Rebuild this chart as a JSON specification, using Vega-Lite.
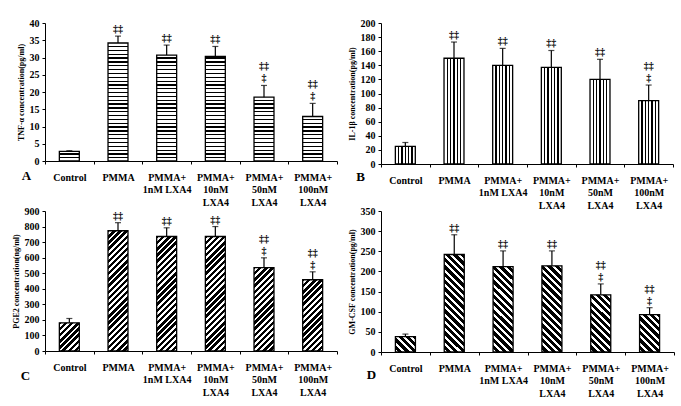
{
  "$schema": "https://vega.github.io/schema/vega-lite/v6.json",
  "background": "white",
  "padding": {"left": 12, "top": 18, "right": 2, "bottom": 2},
  "config": {
    "view": {"stroke": null},
    "font": "Liberation Serif",
    "axis": {"domainColor": "black", "tickColor": "black", "labelColor": "black", "titleColor": "black", "labelFont": "Liberation Serif", "titleFont": "Liberation Serif", "labelFontWeight": "bold", "labelFontSize": 10, "grid": false, "domainWidth": 1, "tickWidth": 1},
    "axisY": {"tickSize": 3, "labelPadding": 3, "titlePadding": 4, "titleFontSize": 8, "titleFontWeight": "bold"},
    "axisX": {"labelAngle": 0, "tickBand": "extent", "tickSize": 3, "labelPadding": 8, "labelLineHeight": 12.5, "titleFontSize": 13, "titleFontWeight": "bold", "titleAngle": 0, "titleAlign": "center", "titleBaseline": "middle"},
    "text": {"color": "black", "font": "Liberation Serif"}
  },
  "datasets": {
    "tnf": [
      {"g": "Control", "mean": 2.8, "hi": 3.0, "sig": ""},
      {"g": "PMMA", "mean": 34.2, "hi": 36.2, "sig": "‡‡"},
      {"g": "PMMA+|1nM LXA4", "mean": 30.7, "hi": 33.6, "sig": "‡‡"},
      {"g": "PMMA+|10nM|LXA4", "mean": 30.3, "hi": 33.2, "sig": "‡‡"},
      {"g": "PMMA+|50nM|LXA4", "mean": 18.5, "hi": 21.9, "sig": "‡\n‡‡"},
      {"g": "PMMA+|100nM|LXA4", "mean": 12.9, "hi": 16.7, "sig": "‡\n‡‡"}
    ],
    "il1": [
      {"g": "Control", "mean": 25, "hi": 30.5, "sig": ""},
      {"g": "PMMA", "mean": 150, "hi": 173, "sig": "‡‡"},
      {"g": "PMMA+|1nM LXA4", "mean": 140, "hi": 164, "sig": "‡‡"},
      {"g": "PMMA+|10nM|LXA4", "mean": 137, "hi": 161, "sig": "‡‡"},
      {"g": "PMMA+|50nM|LXA4", "mean": 120, "hi": 148.5, "sig": "‡‡"},
      {"g": "PMMA+|100nM|LXA4", "mean": 90, "hi": 112, "sig": "‡\n‡‡"}
    ],
    "pge": [
      {"g": "Control", "mean": 181, "hi": 209, "sig": ""},
      {"g": "PMMA", "mean": 773, "hi": 825, "sig": "‡‡"},
      {"g": "PMMA+|1nM LXA4", "mean": 736, "hi": 792, "sig": "‡‡"},
      {"g": "PMMA+|10nM|LXA4", "mean": 736, "hi": 800, "sig": "‡‡"},
      {"g": "PMMA+|50nM|LXA4", "mean": 536, "hi": 599, "sig": "‡\n‡‡"},
      {"g": "PMMA+|100nM|LXA4", "mean": 458, "hi": 509, "sig": "‡\n‡‡"}
    ],
    "gm": [
      {"g": "Control", "mean": 38, "hi": 44.5, "sig": ""},
      {"g": "PMMA", "mean": 242, "hi": 291, "sig": "‡‡"},
      {"g": "PMMA+|1nM LXA4", "mean": 212, "hi": 251, "sig": "‡‡"},
      {"g": "PMMA+|10nM|LXA4", "mean": 214, "hi": 251, "sig": "‡‡"},
      {"g": "PMMA+|50nM|LXA4", "mean": 142, "hi": 169, "sig": "‡\n‡‡"},
      {"g": "PMMA+|100nM|LXA4", "mean": 93, "hi": 110, "sig": "‡\n‡‡"}
    ]
  },
  "spacing": -4,
  "vconcat": [
    {
      "spacing": 10,
      "hconcat": [
        {
          "width": 292, "height": 138,
          "data": {"name": "tnf"},
          "encoding": {
            "x": {"field": "g", "type": "nominal", "sort": null, "scale": {"paddingInner": 0, "paddingOuter": 0},
              "axis": {"title": "A", "labelExpr": "split(datum.label, '|')", "titleX": -19, "titleY": 14}}
          },
          "layer": [
            {"mark": {"type": "bar", "width": {"band": 0.41}, "stroke": null, "fill": {"gradient": "linear", "x1": 0, "y1": 0, "x2": 0, "y2": 1, "stops": [
              {"offset": 0, "color": "#000"}, {"offset": 0.009, "color": "#000"}, {"offset": 0.009, "color": "#fff"},
              {"offset": 0.0278, "color": "#fff"}, {"offset": 0.0278, "color": "#000"}, {"offset": 0.0368, "color": "#000"}, {"offset": 0.0368, "color": "#fff"},
              {"offset": 0.0556, "color": "#fff"}, {"offset": 0.0556, "color": "#000"}, {"offset": 0.0646, "color": "#000"}, {"offset": 0.0646, "color": "#fff"},
              {"offset": 0.0833, "color": "#fff"}, {"offset": 0.0833, "color": "#000"}, {"offset": 0.0923, "color": "#000"}, {"offset": 0.0923, "color": "#fff"},
              {"offset": 0.1111, "color": "#fff"}, {"offset": 0.1111, "color": "#000"}, {"offset": 0.1201, "color": "#000"}, {"offset": 0.1201, "color": "#fff"},
              {"offset": 0.1389, "color": "#fff"}, {"offset": 0.1389, "color": "#000"}, {"offset": 0.1479, "color": "#000"}, {"offset": 0.1479, "color": "#fff"},
              {"offset": 0.1667, "color": "#fff"}, {"offset": 0.1667, "color": "#000"}, {"offset": 0.1757, "color": "#000"}, {"offset": 0.1757, "color": "#fff"},
              {"offset": 0.1944, "color": "#fff"}, {"offset": 0.1944, "color": "#000"}, {"offset": 0.2034, "color": "#000"}, {"offset": 0.2034, "color": "#fff"},
              {"offset": 0.2222, "color": "#fff"}, {"offset": 0.2222, "color": "#000"}, {"offset": 0.2312, "color": "#000"}, {"offset": 0.2312, "color": "#fff"},
              {"offset": 0.25, "color": "#fff"}, {"offset": 0.25, "color": "#000"}, {"offset": 0.259, "color": "#000"}, {"offset": 0.259, "color": "#fff"},
              {"offset": 0.2778, "color": "#fff"}, {"offset": 0.2778, "color": "#000"}, {"offset": 0.2868, "color": "#000"}, {"offset": 0.2868, "color": "#fff"},
              {"offset": 0.3056, "color": "#fff"}, {"offset": 0.3056, "color": "#000"}, {"offset": 0.3146, "color": "#000"}, {"offset": 0.3146, "color": "#fff"},
              {"offset": 0.3333, "color": "#fff"}, {"offset": 0.3333, "color": "#000"}, {"offset": 0.3423, "color": "#000"}, {"offset": 0.3423, "color": "#fff"},
              {"offset": 0.3611, "color": "#fff"}, {"offset": 0.3611, "color": "#000"}, {"offset": 0.3701, "color": "#000"}, {"offset": 0.3701, "color": "#fff"},
              {"offset": 0.3889, "color": "#fff"}, {"offset": 0.3889, "color": "#000"}, {"offset": 0.3979, "color": "#000"}, {"offset": 0.3979, "color": "#fff"},
              {"offset": 0.4167, "color": "#fff"}, {"offset": 0.4167, "color": "#000"}, {"offset": 0.4257, "color": "#000"}, {"offset": 0.4257, "color": "#fff"},
              {"offset": 0.4444, "color": "#fff"}, {"offset": 0.4444, "color": "#000"}, {"offset": 0.4534, "color": "#000"}, {"offset": 0.4534, "color": "#fff"},
              {"offset": 0.4722, "color": "#fff"}, {"offset": 0.4722, "color": "#000"}, {"offset": 0.4812, "color": "#000"}, {"offset": 0.4812, "color": "#fff"},
              {"offset": 0.5, "color": "#fff"}, {"offset": 0.5, "color": "#000"}, {"offset": 0.509, "color": "#000"}, {"offset": 0.509, "color": "#fff"},
              {"offset": 0.5278, "color": "#fff"}, {"offset": 0.5278, "color": "#000"}, {"offset": 0.5368, "color": "#000"}, {"offset": 0.5368, "color": "#fff"},
              {"offset": 0.5556, "color": "#fff"}, {"offset": 0.5556, "color": "#000"}, {"offset": 0.5646, "color": "#000"}, {"offset": 0.5646, "color": "#fff"},
              {"offset": 0.5833, "color": "#fff"}, {"offset": 0.5833, "color": "#000"}, {"offset": 0.5923, "color": "#000"}, {"offset": 0.5923, "color": "#fff"},
              {"offset": 0.6111, "color": "#fff"}, {"offset": 0.6111, "color": "#000"}, {"offset": 0.6201, "color": "#000"}, {"offset": 0.6201, "color": "#fff"},
              {"offset": 0.6389, "color": "#fff"}, {"offset": 0.6389, "color": "#000"}, {"offset": 0.6479, "color": "#000"}, {"offset": 0.6479, "color": "#fff"},
              {"offset": 0.6667, "color": "#fff"}, {"offset": 0.6667, "color": "#000"}, {"offset": 0.6757, "color": "#000"}, {"offset": 0.6757, "color": "#fff"},
              {"offset": 0.6944, "color": "#fff"}, {"offset": 0.6944, "color": "#000"}, {"offset": 0.7034, "color": "#000"}, {"offset": 0.7034, "color": "#fff"},
              {"offset": 0.7222, "color": "#fff"}, {"offset": 0.7222, "color": "#000"}, {"offset": 0.7312, "color": "#000"}, {"offset": 0.7312, "color": "#fff"},
              {"offset": 0.75, "color": "#fff"}, {"offset": 0.75, "color": "#000"}, {"offset": 0.759, "color": "#000"}, {"offset": 0.759, "color": "#fff"},
              {"offset": 0.7778, "color": "#fff"}, {"offset": 0.7778, "color": "#000"}, {"offset": 0.7868, "color": "#000"}, {"offset": 0.7868, "color": "#fff"},
              {"offset": 0.8056, "color": "#fff"}, {"offset": 0.8056, "color": "#000"}, {"offset": 0.8146, "color": "#000"}, {"offset": 0.8146, "color": "#fff"},
              {"offset": 0.8333, "color": "#fff"}, {"offset": 0.8333, "color": "#000"}, {"offset": 0.8423, "color": "#000"}, {"offset": 0.8423, "color": "#fff"},
              {"offset": 0.8611, "color": "#fff"}, {"offset": 0.8611, "color": "#000"}, {"offset": 0.8701, "color": "#000"}, {"offset": 0.8701, "color": "#fff"},
              {"offset": 0.8889, "color": "#fff"}, {"offset": 0.8889, "color": "#000"}, {"offset": 0.8979, "color": "#000"}, {"offset": 0.8979, "color": "#fff"},
              {"offset": 0.9167, "color": "#fff"}, {"offset": 0.9167, "color": "#000"}, {"offset": 0.9257, "color": "#000"}, {"offset": 0.9257, "color": "#fff"},
              {"offset": 0.9444, "color": "#fff"}, {"offset": 0.9444, "color": "#000"}, {"offset": 0.9534, "color": "#000"}, {"offset": 0.9534, "color": "#fff"},
              {"offset": 0.9722, "color": "#fff"}, {"offset": 0.9722, "color": "#000"}, {"offset": 0.9812, "color": "#000"}, {"offset": 0.9812, "color": "#fff"}
            ]}},
              "encoding": {"y": {"datum": 40, "type": "quantitative", "scale": {"domain": [0, 40], "nice": false}, "title": "TNF-α concentration(pg/ml)", "axis": {"values": [0, 5, 10, 15, 20, 25, 30, 35, 40]}}, "y2": {"datum": 0}}},
            {"mark": {"type": "bar", "width": {"band": 0.47}, "fill": "white", "stroke": null},
              "encoding": {"y": {"field": "mean", "type": "quantitative", "title": "TNF-α concentration(pg/ml)", "axis": {"values": [0, 5, 10, 15, 20, 25, 30, 35, 40]}}, "y2": {"datum": 40}}},
            {"mark": {"type": "rule", "color": "black", "strokeWidth": 1.2},
              "encoding": {"y": {"field": "mean", "type": "quantitative", "title": "TNF-α concentration(pg/ml)", "axis": {"values": [0, 5, 10, 15, 20, 25, 30, 35, 40]}}, "y2": {"field": "hi"}}},
            {"mark": {"type": "tick", "color": "black", "size": 6, "thickness": 1.2},
              "encoding": {"y": {"field": "hi", "type": "quantitative", "title": "TNF-α concentration(pg/ml)", "axis": {"values": [0, 5, 10, 15, 20, 25, 30, 35, 40]}}}},
            {"mark": {"type": "bar", "width": {"band": 0.41}, "fill": "transparent", "stroke": "black", "strokeWidth": 1.3},
              "encoding": {"y": {"field": "mean", "type": "quantitative", "title": "TNF-α concentration(pg/ml)", "axis": {"values": [0, 5, 10, 15, 20, 25, 30, 35, 40]}}, "y2": {"datum": 0}}},
            {"mark": {"type": "text", "baseline": "bottom", "dy": -2, "lineBreak": "\n", "lineHeight": -12, "fontSize": 10, "fontWeight": "bold"},
              "encoding": {"y": {"field": "hi", "type": "quantitative", "title": "TNF-α concentration(pg/ml)", "axis": {"values": [0, 5, 10, 15, 20, 25, 30, 35, 40]}}, "text": {"field": "sig"}}}
          ]
        },
        {
          "width": 292, "height": 141,
          "data": {"name": "il1"},
          "encoding": {
            "x": {"field": "g", "type": "nominal", "sort": null, "scale": {"paddingInner": 0, "paddingOuter": 0},
              "axis": {"title": "B", "labelExpr": "split(datum.label, '|')", "titleX": -21, "titleY": 12}}
          },
          "layer": [
            {"mark": {"type": "bar", "width": {"band": 0.41}, "stroke": "black", "strokeWidth": 1.3, "fill": {"gradient": "linear", "x1": 0, "y1": 0, "x2": 1, "y2": 0, "stops": [
              {"offset": 0.1397, "color": "#fff"}, {"offset": 0.1397, "color": "#000"}, {"offset": 0.1937, "color": "#000"}, {"offset": 0.1937, "color": "#fff"},
              {"offset": 0.3063, "color": "#fff"}, {"offset": 0.3063, "color": "#000"}, {"offset": 0.3603, "color": "#000"}, {"offset": 0.3603, "color": "#fff"},
              {"offset": 0.473, "color": "#fff"}, {"offset": 0.473, "color": "#000"}, {"offset": 0.527, "color": "#000"}, {"offset": 0.527, "color": "#fff"},
              {"offset": 0.6397, "color": "#fff"}, {"offset": 0.6397, "color": "#000"}, {"offset": 0.6937, "color": "#000"}, {"offset": 0.6937, "color": "#fff"},
              {"offset": 0.8063, "color": "#fff"}, {"offset": 0.8063, "color": "#000"}, {"offset": 0.8603, "color": "#000"}, {"offset": 0.8603, "color": "#fff"}
            ]}},
              "encoding": {"y": {"field": "mean", "type": "quantitative", "scale": {"domain": [0, 200], "nice": false}, "title": "IL-1β concentration(pg/ml)", "axis": {"values": [0, 20, 40, 60, 80, 100, 120, 140, 160, 180, 200]}}, "y2": {"datum": 0}}},
            {"mark": {"type": "rule", "color": "black", "strokeWidth": 1.2},
              "encoding": {"y": {"field": "mean", "type": "quantitative", "title": "IL-1β concentration(pg/ml)", "axis": {"values": [0, 20, 40, 60, 80, 100, 120, 140, 160, 180, 200]}}, "y2": {"field": "hi"}}},
            {"mark": {"type": "tick", "color": "black", "size": 6, "thickness": 1.2},
              "encoding": {"y": {"field": "hi", "type": "quantitative", "title": "IL-1β concentration(pg/ml)", "axis": {"values": [0, 20, 40, 60, 80, 100, 120, 140, 160, 180, 200]}}}},
            {"mark": {"type": "text", "baseline": "bottom", "dy": -2, "lineBreak": "\n", "lineHeight": -12, "fontSize": 10, "fontWeight": "bold"},
              "encoding": {"y": {"field": "hi", "type": "quantitative", "title": "IL-1β concentration(pg/ml)", "axis": {"values": [0, 20, 40, 60, 80, 100, 120, 140, 160, 180, 200]}}, "text": {"field": "sig"}}}
          ]
        }
      ]
    },
    {
      "spacing": 10,
      "hconcat": [
        {
          "width": 292, "height": 140,
          "data": {"name": "pge"},
          "encoding": {
            "x": {"field": "g", "type": "nominal", "sort": null, "scale": {"paddingInner": 0, "paddingOuter": 0},
              "axis": {"title": "C", "labelExpr": "split(datum.label, '|')", "titleX": -20, "titleY": 24}}
          },
          "layer": [
            {"mark": {"type": "bar", "width": {"band": 0.41}, "stroke": null, "fill": {"gradient": "linear", "x1": 0, "y1": 0, "x2": 0.1596, "y2": 1.12, "stops": [
              {"offset": 0, "color": "#000"}, {"offset": 0.0215, "color": "#000"}, {"offset": 0.0215, "color": "#fff"},
              {"offset": 0.0385, "color": "#fff"}, {"offset": 0.0385, "color": "#000"}, {"offset": 0.06, "color": "#000"}, {"offset": 0.06, "color": "#fff"},
              {"offset": 0.0769, "color": "#fff"}, {"offset": 0.0769, "color": "#000"}, {"offset": 0.0984, "color": "#000"}, {"offset": 0.0984, "color": "#fff"},
              {"offset": 0.1154, "color": "#fff"}, {"offset": 0.1154, "color": "#000"}, {"offset": 0.1369, "color": "#000"}, {"offset": 0.1369, "color": "#fff"},
              {"offset": 0.1538, "color": "#fff"}, {"offset": 0.1538, "color": "#000"}, {"offset": 0.1753, "color": "#000"}, {"offset": 0.1753, "color": "#fff"},
              {"offset": 0.1923, "color": "#fff"}, {"offset": 0.1923, "color": "#000"}, {"offset": 0.2138, "color": "#000"}, {"offset": 0.2138, "color": "#fff"},
              {"offset": 0.2308, "color": "#fff"}, {"offset": 0.2308, "color": "#000"}, {"offset": 0.2523, "color": "#000"}, {"offset": 0.2523, "color": "#fff"},
              {"offset": 0.2692, "color": "#fff"}, {"offset": 0.2692, "color": "#000"}, {"offset": 0.2907, "color": "#000"}, {"offset": 0.2907, "color": "#fff"},
              {"offset": 0.3077, "color": "#fff"}, {"offset": 0.3077, "color": "#000"}, {"offset": 0.3292, "color": "#000"}, {"offset": 0.3292, "color": "#fff"},
              {"offset": 0.3462, "color": "#fff"}, {"offset": 0.3462, "color": "#000"}, {"offset": 0.3677, "color": "#000"}, {"offset": 0.3677, "color": "#fff"},
              {"offset": 0.3846, "color": "#fff"}, {"offset": 0.3846, "color": "#000"}, {"offset": 0.4061, "color": "#000"}, {"offset": 0.4061, "color": "#fff"},
              {"offset": 0.4231, "color": "#fff"}, {"offset": 0.4231, "color": "#000"}, {"offset": 0.4446, "color": "#000"}, {"offset": 0.4446, "color": "#fff"},
              {"offset": 0.4615, "color": "#fff"}, {"offset": 0.4615, "color": "#000"}, {"offset": 0.483, "color": "#000"}, {"offset": 0.483, "color": "#fff"},
              {"offset": 0.5, "color": "#fff"}, {"offset": 0.5, "color": "#000"}, {"offset": 0.5215, "color": "#000"}, {"offset": 0.5215, "color": "#fff"},
              {"offset": 0.5385, "color": "#fff"}, {"offset": 0.5385, "color": "#000"}, {"offset": 0.56, "color": "#000"}, {"offset": 0.56, "color": "#fff"},
              {"offset": 0.5769, "color": "#fff"}, {"offset": 0.5769, "color": "#000"}, {"offset": 0.5984, "color": "#000"}, {"offset": 0.5984, "color": "#fff"},
              {"offset": 0.6154, "color": "#fff"}, {"offset": 0.6154, "color": "#000"}, {"offset": 0.6369, "color": "#000"}, {"offset": 0.6369, "color": "#fff"},
              {"offset": 0.6538, "color": "#fff"}, {"offset": 0.6538, "color": "#000"}, {"offset": 0.6753, "color": "#000"}, {"offset": 0.6753, "color": "#fff"},
              {"offset": 0.6923, "color": "#fff"}, {"offset": 0.6923, "color": "#000"}, {"offset": 0.7138, "color": "#000"}, {"offset": 0.7138, "color": "#fff"},
              {"offset": 0.7308, "color": "#fff"}, {"offset": 0.7308, "color": "#000"}, {"offset": 0.7523, "color": "#000"}, {"offset": 0.7523, "color": "#fff"},
              {"offset": 0.7692, "color": "#fff"}, {"offset": 0.7692, "color": "#000"}, {"offset": 0.7907, "color": "#000"}, {"offset": 0.7907, "color": "#fff"},
              {"offset": 0.8077, "color": "#fff"}, {"offset": 0.8077, "color": "#000"}, {"offset": 0.8292, "color": "#000"}, {"offset": 0.8292, "color": "#fff"},
              {"offset": 0.8462, "color": "#fff"}, {"offset": 0.8462, "color": "#000"}, {"offset": 0.8677, "color": "#000"}, {"offset": 0.8677, "color": "#fff"},
              {"offset": 0.8846, "color": "#fff"}, {"offset": 0.8846, "color": "#000"}, {"offset": 0.9061, "color": "#000"}, {"offset": 0.9061, "color": "#fff"},
              {"offset": 0.9231, "color": "#fff"}, {"offset": 0.9231, "color": "#000"}, {"offset": 0.9446, "color": "#000"}, {"offset": 0.9446, "color": "#fff"},
              {"offset": 0.9615, "color": "#fff"}, {"offset": 0.9615, "color": "#000"}, {"offset": 0.983, "color": "#000"}, {"offset": 0.983, "color": "#fff"}
            ]}},
              "encoding": {"y": {"datum": 900, "type": "quantitative", "scale": {"domain": [0, 900], "nice": false}, "title": "PGE2 concentration(ng/ml)", "axis": {"values": [0, 100, 200, 300, 400, 500, 600, 700, 800, 900]}}, "y2": {"datum": 0}}},
            {"mark": {"type": "bar", "width": {"band": 0.47}, "fill": "white", "stroke": null},
              "encoding": {"y": {"field": "mean", "type": "quantitative", "title": "PGE2 concentration(ng/ml)", "axis": {"values": [0, 100, 200, 300, 400, 500, 600, 700, 800, 900]}}, "y2": {"datum": 900}}},
            {"mark": {"type": "rule", "color": "black", "strokeWidth": 1.2},
              "encoding": {"y": {"field": "mean", "type": "quantitative", "title": "PGE2 concentration(ng/ml)", "axis": {"values": [0, 100, 200, 300, 400, 500, 600, 700, 800, 900]}}, "y2": {"field": "hi"}}},
            {"mark": {"type": "tick", "color": "black", "size": 6, "thickness": 1.2},
              "encoding": {"y": {"field": "hi", "type": "quantitative", "title": "PGE2 concentration(ng/ml)", "axis": {"values": [0, 100, 200, 300, 400, 500, 600, 700, 800, 900]}}}},
            {"mark": {"type": "bar", "width": {"band": 0.41}, "fill": "transparent", "stroke": "black", "strokeWidth": 1.3},
              "encoding": {"y": {"field": "mean", "type": "quantitative", "title": "PGE2 concentration(ng/ml)", "axis": {"values": [0, 100, 200, 300, 400, 500, 600, 700, 800, 900]}}, "y2": {"datum": 0}}},
            {"mark": {"type": "text", "baseline": "bottom", "dy": -2, "lineBreak": "\n", "lineHeight": -12, "fontSize": 10, "fontWeight": "bold"},
              "encoding": {"y": {"field": "hi", "type": "quantitative", "title": "PGE2 concentration(ng/ml)", "axis": {"values": [0, 100, 200, 300, 400, 500, 600, 700, 800, 900]}}, "text": {"field": "sig"}}}
          ]
        },
        {
          "width": 293, "height": 141,
          "data": {"name": "gm"},
          "encoding": {
            "x": {"field": "g", "type": "nominal", "sort": null, "scale": {"paddingInner": 0, "paddingOuter": 0},
              "axis": {"title": "D", "labelExpr": "split(datum.label, '|')", "titleX": -10, "titleY": 22}}
          },
          "layer": [
            {"mark": {"type": "bar", "width": {"band": 0.41}, "stroke": null, "fill": {"gradient": "linear", "x1": 1, "y1": 0, "x2": 0.8417, "y2": 1.119, "stops": [
              {"offset": 0, "color": "#000"}, {"offset": 0.0264, "color": "#000"}, {"offset": 0.0264, "color": "#fff"},
              {"offset": 0.0455, "color": "#fff"}, {"offset": 0.0455, "color": "#000"}, {"offset": 0.0719, "color": "#000"}, {"offset": 0.0719, "color": "#fff"},
              {"offset": 0.0909, "color": "#fff"}, {"offset": 0.0909, "color": "#000"}, {"offset": 0.1173, "color": "#000"}, {"offset": 0.1173, "color": "#fff"},
              {"offset": 0.1364, "color": "#fff"}, {"offset": 0.1364, "color": "#000"}, {"offset": 0.1628, "color": "#000"}, {"offset": 0.1628, "color": "#fff"},
              {"offset": 0.1818, "color": "#fff"}, {"offset": 0.1818, "color": "#000"}, {"offset": 0.2082, "color": "#000"}, {"offset": 0.2082, "color": "#fff"},
              {"offset": 0.2273, "color": "#fff"}, {"offset": 0.2273, "color": "#000"}, {"offset": 0.2537, "color": "#000"}, {"offset": 0.2537, "color": "#fff"},
              {"offset": 0.2727, "color": "#fff"}, {"offset": 0.2727, "color": "#000"}, {"offset": 0.2991, "color": "#000"}, {"offset": 0.2991, "color": "#fff"},
              {"offset": 0.3182, "color": "#fff"}, {"offset": 0.3182, "color": "#000"}, {"offset": 0.3446, "color": "#000"}, {"offset": 0.3446, "color": "#fff"},
              {"offset": 0.3636, "color": "#fff"}, {"offset": 0.3636, "color": "#000"}, {"offset": 0.39, "color": "#000"}, {"offset": 0.39, "color": "#fff"},
              {"offset": 0.4091, "color": "#fff"}, {"offset": 0.4091, "color": "#000"}, {"offset": 0.4355, "color": "#000"}, {"offset": 0.4355, "color": "#fff"},
              {"offset": 0.4545, "color": "#fff"}, {"offset": 0.4545, "color": "#000"}, {"offset": 0.4809, "color": "#000"}, {"offset": 0.4809, "color": "#fff"},
              {"offset": 0.5, "color": "#fff"}, {"offset": 0.5, "color": "#000"}, {"offset": 0.5264, "color": "#000"}, {"offset": 0.5264, "color": "#fff"},
              {"offset": 0.5455, "color": "#fff"}, {"offset": 0.5455, "color": "#000"}, {"offset": 0.5719, "color": "#000"}, {"offset": 0.5719, "color": "#fff"},
              {"offset": 0.5909, "color": "#fff"}, {"offset": 0.5909, "color": "#000"}, {"offset": 0.6173, "color": "#000"}, {"offset": 0.6173, "color": "#fff"},
              {"offset": 0.6364, "color": "#fff"}, {"offset": 0.6364, "color": "#000"}, {"offset": 0.6628, "color": "#000"}, {"offset": 0.6628, "color": "#fff"},
              {"offset": 0.6818, "color": "#fff"}, {"offset": 0.6818, "color": "#000"}, {"offset": 0.7082, "color": "#000"}, {"offset": 0.7082, "color": "#fff"},
              {"offset": 0.7273, "color": "#fff"}, {"offset": 0.7273, "color": "#000"}, {"offset": 0.7537, "color": "#000"}, {"offset": 0.7537, "color": "#fff"},
              {"offset": 0.7727, "color": "#fff"}, {"offset": 0.7727, "color": "#000"}, {"offset": 0.7991, "color": "#000"}, {"offset": 0.7991, "color": "#fff"},
              {"offset": 0.8182, "color": "#fff"}, {"offset": 0.8182, "color": "#000"}, {"offset": 0.8446, "color": "#000"}, {"offset": 0.8446, "color": "#fff"},
              {"offset": 0.8636, "color": "#fff"}, {"offset": 0.8636, "color": "#000"}, {"offset": 0.89, "color": "#000"}, {"offset": 0.89, "color": "#fff"},
              {"offset": 0.9091, "color": "#fff"}, {"offset": 0.9091, "color": "#000"}, {"offset": 0.9355, "color": "#000"}, {"offset": 0.9355, "color": "#fff"},
              {"offset": 0.9545, "color": "#fff"}, {"offset": 0.9545, "color": "#000"}, {"offset": 0.9809, "color": "#000"}, {"offset": 0.9809, "color": "#fff"}
            ]}},
              "encoding": {"y": {"datum": 350, "type": "quantitative", "scale": {"domain": [0, 350], "nice": false}, "title": "GM-CSF concentration(pg/ml)", "axis": {"values": [0, 50, 100, 150, 200, 250, 300, 350]}}, "y2": {"datum": 0}}},
            {"mark": {"type": "bar", "width": {"band": 0.47}, "fill": "white", "stroke": null},
              "encoding": {"y": {"field": "mean", "type": "quantitative", "title": "GM-CSF concentration(pg/ml)", "axis": {"values": [0, 50, 100, 150, 200, 250, 300, 350]}}, "y2": {"datum": 350}}},
            {"mark": {"type": "rule", "color": "black", "strokeWidth": 1.2},
              "encoding": {"y": {"field": "mean", "type": "quantitative", "title": "GM-CSF concentration(pg/ml)", "axis": {"values": [0, 50, 100, 150, 200, 250, 300, 350]}}, "y2": {"field": "hi"}}},
            {"mark": {"type": "tick", "color": "black", "size": 6, "thickness": 1.2},
              "encoding": {"y": {"field": "hi", "type": "quantitative", "title": "GM-CSF concentration(pg/ml)", "axis": {"values": [0, 50, 100, 150, 200, 250, 300, 350]}}}},
            {"mark": {"type": "bar", "width": {"band": 0.41}, "fill": "transparent", "stroke": "black", "strokeWidth": 1.3},
              "encoding": {"y": {"field": "mean", "type": "quantitative", "title": "GM-CSF concentration(pg/ml)", "axis": {"values": [0, 50, 100, 150, 200, 250, 300, 350]}}, "y2": {"datum": 0}}},
            {"mark": {"type": "text", "baseline": "bottom", "dy": -2, "lineBreak": "\n", "lineHeight": -12, "fontSize": 10, "fontWeight": "bold"},
              "encoding": {"y": {"field": "hi", "type": "quantitative", "title": "GM-CSF concentration(pg/ml)", "axis": {"values": [0, 50, 100, 150, 200, 250, 300, 350]}}, "text": {"field": "sig"}}}
          ]
        }
      ]
    }
  ]
}
